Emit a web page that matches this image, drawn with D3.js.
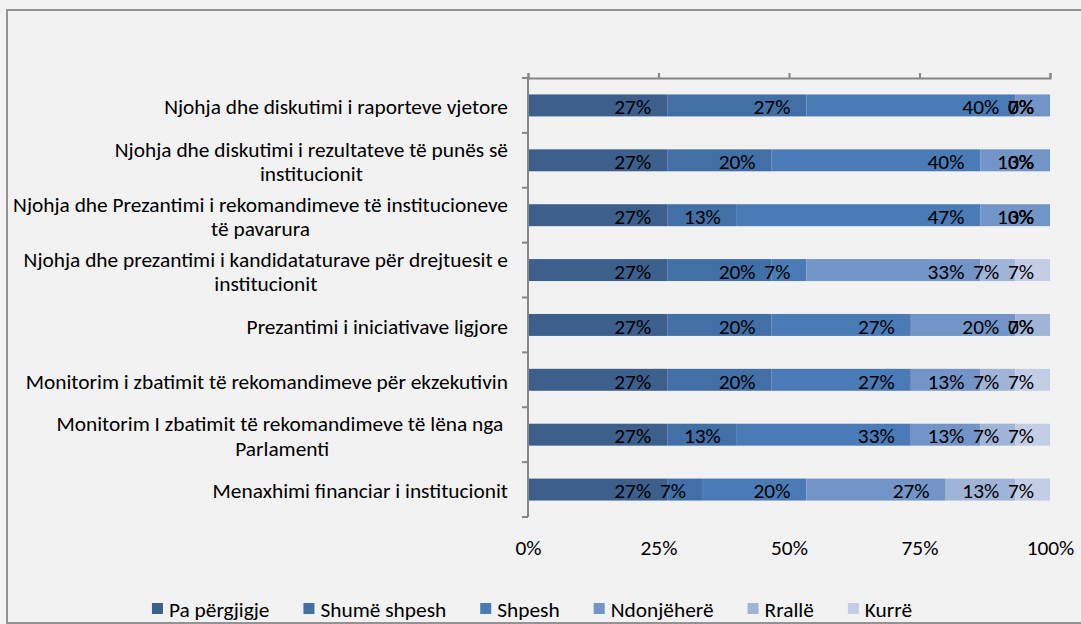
<!DOCTYPE html>
<html><head><meta charset="utf-8">
<script src="https://cdn.jsdelivr.net/npm/d3@7"></script>
<style>body{margin:0;background:#f2f2f2;} svg{display:block}</style>
</head><body><svg id="c" width="1081" height="624"></svg>
<script>
const categories = [
 "Njohja dhe diskutimi i raporteve vjetore",
 "Njohja dhe diskutimi i rezultateve të punës së\ninstitucionit",
 "Njohja dhe Prezantimi i rekomandimeve të institucioneve\ntë pavarura",
 "Njohja dhe prezantimi i kandidataturave për drejtuesit e\ninstitucionit",
 "Prezantimi i iniciativave ligjore",
 "Monitorim i zbatimit të rekomandimeve për ekzekutivin",
 "Monitorim I zbatimit të rekomandimeve të lëna nga \nParlamenti",
 "Menaxhimi financiar i institucionit"
];
const seriesNames = ["Pa përgjigje","Shumë shpesh","Shpesh","Ndonjëherë","Rrallë","Kurrë"];
const paPergjigje = [26.67,26.67,26.67,26.67,26.67,26.67,26.67,26.67];
const shumeShpesh = [26.67,20,13.33,20,20,20,13.33,6.67];
const shpesh      = [40,40,46.67,6.67,26.67,26.67,33.33,20];
const ndonjehere  = [6.67,13.33,13.33,33.33,20,13.33,13.33,26.67];
const ralle       = [0,0,0,6.67,6.67,6.67,6.67,13.33];
const kurre       = [0,0,0,6.67,0,6.67,6.67,6.67];
const tickValues  = [0,25,50,75,100];
const tickLabels  = ["0%","25%","50%","75%","100%"];
const colors = ["#3c5f8c","#426fa6","#4a7bb6","#7394c6","#a0b4d8","#c3cde5"];

const seriesValues = [paPergjigje, shumeShpesh, shpesh, ndonjehere, ralle, kurre];
const table = categories.map((c,i)=>{const o={cat:c}; seriesNames.forEach((s,j)=>o[s]=seriesValues[j][i]); return o;});

function hasFont(f){const c=document.createElement('canvas').getContext('2d');const s='abcdefghijklmnopWMi';c.font='20px monospace';const a=c.measureText(s).width;c.font='20px "'+f+'", monospace';return c.measureText(s).width!==a;}
const FONT = hasFont('Carlito') ? 'Carlito' : (hasFont('Lato') ? 'Lato' : 'sans-serif');
const ctx = document.createElement('canvas').getContext('2d');
ctx.font = '20px ' + FONT;
const FS = +(20*344/ctx.measureText(categories[0]).width).toFixed(2);

const svg = d3.select('#c').style('font-family', FONT);
svg.append('rect').attr('width',1081).attr('height',624).attr('fill','#f2f2f2');
svg.append('rect').attr('x',7).attr('y',10).attr('width',1100).attr('height',613)
  .attr('fill','#f2f2f2').attr('stroke','#939393').attr('stroke-width',2);

const x = d3.scaleLinear().domain([0,100]).range([528,1050]);
const y = d3.scaleBand().domain(categories).range([78,517]).paddingInner(0.6).paddingOuter(0.3);

const stack = d3.stack().keys(seriesNames)(table);

const g = svg.append('g');
stack.forEach((layer,j)=>{
  g.append('g').attr('fill',colors[j]).selectAll('rect').data(layer).join('rect')
   .attr('x',d=>x(d[0])).attr('y',d=>y(d.data.cat))
   .attr('width',d=>Math.max(0,x(Math.min(100,d[1]))-x(d[0]))).attr('height',y.bandwidth());
});
stack.forEach((layer,j)=>{
  g.append('g').selectAll('text').data(layer).join('text')
   .attr('x',d=>x(Math.min(100,d[1]))-16).attr('y',d=>y(d.data.cat)+y.bandwidth()/2+1)
   .attr('dy','0.36em').attr('text-anchor','end').attr('font-size',FS).attr('fill','#000')
   .text(d=>Math.round(d.data[seriesNames[j]])+'%');
});

// top value axis (ticks only)
const axTop = svg.append('g').attr('transform','translate(0,78)')
  .call(d3.axisTop(x).tickValues(tickValues).tickSize(5).tickSizeOuter(5).tickFormat(''));
axTop.selectAll('path,line').attr('stroke','#868686').attr('stroke-width',2);
// value tick labels at bottom
const axBot = svg.append('g').attr('transform','translate(0,517)')
  .call(d3.axisBottom(x).tickValues(tickValues).tickSize(0).tickPadding(23).tickFormat((d,i)=>tickLabels[i]));
axBot.select('.domain').remove();
axBot.selectAll('text').attr('font-size',FS).attr('font-family',FONT).attr('fill','#000');

// left category axis
const y0 = y.range()[0], step = y.step();
const bounds = d3.range(categories.length+1).map(i=>y0+i*step);
svg.append('line').attr('x1',528).attr('x2',528).attr('y1',y0-1).attr('y2',bounds[bounds.length-1])
  .attr('stroke','#868686').attr('stroke-width',2);
svg.append('g').selectAll('line').data(bounds).join('line')
  .attr('x1',522).attr('x2',528).attr('y1',d=>d).attr('y2',d=>d)
  .attr('stroke','#868686').attr('stroke-width',2);

// category labels
ctx.font = FS+'px '+FONT;
const lh = 24.5;
categories.forEach(c=>{
  const lines = c.split('\n');
  const w = d3.max(lines,l=>ctx.measureText(l).width);
  const cx = 508 - w/2;
  const cy = y(c)+y.bandwidth()/2+1;
  const t = svg.append('text').attr('text-anchor','middle').attr('font-size',FS).attr('fill','#000');
  lines.forEach((l,k)=>{
    t.append('tspan').attr('x',cx).attr('y',cy+(k-(lines.length-1)/2)*lh).attr('dy','0.36em')
     .attr('xml:space','preserve').text(l);
  });
});

// legend
const lg = svg.append('g');
const gap = 34;
let lx = 0; const items=[];
seriesNames.forEach((s,j)=>{
  const w = ctx.measureText(s).width;
  items.push({s,j,x:lx}); lx += 12+5+w+gap;
});
const totalW = lx-gap;
const lx0 = 532 - totalW/2;
items.forEach(it=>{
  lg.append('rect').attr('x',lx0+it.x).attr('y',603).attr('width',11).attr('height',11).attr('fill',colors[it.j]);
  lg.append('text').attr('x',lx0+it.x+17).attr('y',609).attr('dy','0.36em').attr('font-size',FS).attr('fill','#000').text(it.s);
});
</script></body></html>
